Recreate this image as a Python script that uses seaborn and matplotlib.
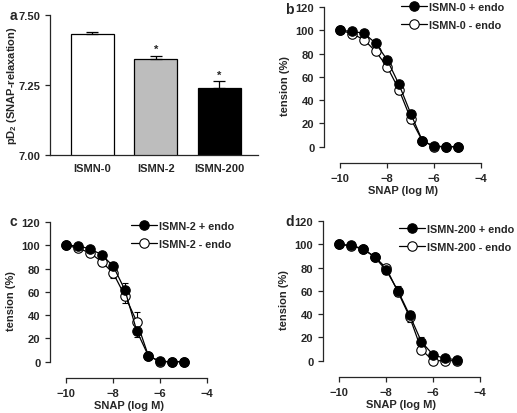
import numpy as np
import pandas as pd
import seaborn as sns
import matplotlib.pyplot as plt

# panel a: pD2 values
groups = ["ISMN-0", "ISMN-2", "ISMN-200"]
pd2_mean = [7.431, 7.342, 7.240]
pd2_err = [0.010, 0.013, 0.025]
pd2_sig = ["", "*", "*"]
bar_colors = ["white", "#bdbdbd", "black"]

# panels b-d: concentration-response curves
log_conc = [-10, -9.5, -9, -8.5, -8, -7.5, -7, -6.5, -6, -5.5, -5]

b_plus = [100, 99, 97.5, 89, 74.5, 53.5, 28.5, 5, 0.5, 0, 0]
b_plus_err = [1, 1, 1.5, 2, 2.5, 3, 3, 1.5, 0.5, 0, 0]
b_minus = [100, 97, 92, 82, 68.5, 49, 24, 5, 0, 0, 0]
b_minus_err = [1, 1.5, 2, 2.5, 3, 3.5, 3.5, 1.5, 0.5, 0, 0]

c_plus = [100, 99.5, 97, 92, 82, 61.5, 26.5, 5, 0.3, 0, 0]
c_plus_err = [1, 1, 1.5, 2, 3.5, 6, 5, 1.5, 0.5, 0, 0]
c_minus = [100, 97.5, 93.5, 86, 76, 56.5, 34.5, 5, 0, 0, 0]
c_minus_err = [1, 1.5, 2, 4, 4, 6, 8, 1.5, 0.5, 0, 0]

d_plus = [100, 99, 96.3, 89, 77.7, 60, 39, 16.3, 5, 2, 0.9]
d_plus_err = [1, 1, 1.5, 2, 3, 4, 4, 4, 2, 1, 0.5]
d_minus = [100, 98.5, 96, 89.5, 79.5, 59, 37.5, 9.5, 0, 0, 0]
d_minus_err = [1, 1, 1.5, 2, 3, 3, 4, 3, 1, 0.5, 0]

sns.set_style("ticks")
plt.rcParams["font.family"] = ["Liberation Sans", "DejaVu Sans"]
plt.rcParams["font.weight"] = "bold"
plt.rcParams["axes.labelweight"] = "bold"
plt.rcParams["mathtext.fontset"] = "custom"
plt.rcParams["mathtext.bf"] = "Liberation Sans:bold"
plt.rcParams["mathtext.rm"] = "Liberation Sans:bold"
plt.rcParams["axes.linewidth"] = 0.9
plt.rcParams["xtick.major.width"] = 0.9
plt.rcParams["ytick.major.width"] = 0.9
plt.rcParams["xtick.major.size"] = 3.5
plt.rcParams["ytick.major.size"] = 3.5

W, H = 517, 414
fig = plt.figure(figsize=(W / 100, H / 100), dpi=100)


def px_axes(left, top, right, bottom):
    return fig.add_axes([left / W, 1 - bottom / H, (right - left) / W, (bottom - top) / H])


# ---- panel a ----
ax = px_axes(50, 16, 258, 156)
df_a = pd.DataFrame({"group": groups, "pd2": pd2_mean})
sns.barplot(data=df_a, x="group", y="pd2", hue="group", palette=bar_colors,
            edgecolor="black", linewidth=0.9, width=0.68, legend=False, ax=ax)
xs = np.arange(len(groups))
ax.errorbar(xs, pd2_mean, yerr=[np.zeros(3), pd2_err], fmt="none",
            ecolor="black", elinewidth=0.9, capsize=4, capthick=0.9, zorder=1)
for x, m, e, s in zip(xs, pd2_mean, pd2_err, pd2_sig):
    if s:
        ax.annotate(s, (x, m + e), xytext=(0, 1), textcoords="offset points",
                    ha="center", va="bottom", fontsize=8, fontweight="bold")
ax.set_xlim(-0.67, 2.61)
ax.set_ylim(7.0, 7.5)
ax.set_yticks([7.0, 7.25, 7.5])
ax.set_yticklabels(["7.00", "7.25", "7.50"])
ax.tick_params(axis="x", length=0, pad=6)
ax.tick_params(labelsize=8)
ax.set_xlabel("")
ax.set_ylabel(r"pD$_\mathbf{2}$ (SNAP-relaxation)", fontsize=8)
ax.yaxis.set_label_coords(19 / W, 1 - 86 / H, transform=fig.transFigure)
sns.despine(ax=ax)
fig.text(10 / W, 1 - 16 / H, "a", fontsize=10, fontweight="bold", va="center")


# ---- panels b-d ----
def curve_panel(ax, plus, plus_err, minus, minus_err, name, leg_xy):
    ax.errorbar(log_conc, minus, yerr=minus_err, fmt="none", ecolor="black",
                elinewidth=0.8, capsize=2.5, capthick=0.8, zorder=1)
    ax.errorbar(log_conc, plus, yerr=plus_err, fmt="none", ecolor="black",
                elinewidth=0.8, capsize=2.5, capthick=0.8, zorder=1)
    sns.lineplot(x=log_conc, y=minus, color="black", linewidth=0.9, marker="o",
                 ms=6.8, mfc="white", mec="black", mew=0.8, zorder=2, ax=ax)
    h_minus = ax.lines[-1]
    sns.lineplot(x=log_conc, y=plus, color="black", linewidth=0.9, marker="o",
                 ms=6.8, mfc="black", mec="black", mew=0.8, zorder=3, ax=ax)
    h_plus = ax.lines[-1]
    ax.legend([h_plus, h_minus], [name + " + endo", name + " - endo"],
              loc="upper left", bbox_to_anchor=(leg_xy[0] / W, 1 - leg_xy[1] / H),
              bbox_transform=fig.transFigure, frameon=False, fontsize=7.8,
              handlelength=2.4, handletextpad=0.15, borderpad=0, borderaxespad=0,
              labelspacing=0.75)
    ax.set_xlim(-10.7, -4)
    ax.set_ylim(-14, 120)
    ax.set_xticks([-10, -8, -6, -4])
    ax.set_yticks(range(0, 121, 20))
    sns.despine(ax=ax)
    ax.spines["left"].set_bounds(0, 120)
    ax.spines["bottom"].set_bounds(-10, -4)
    ax.tick_params(labelsize=8)
    ax.set_xlabel("SNAP (log M)", fontsize=8, labelpad=2)
    ax.set_ylabel("tension (%)", fontsize=8)


ax_b = px_axes(324, 8, 481, 164)
curve_panel(ax_b, b_plus, b_plus_err, b_minus, b_minus_err, "ISMN-0", (401, 3))
fig.text(285 / W, 1 - 10 / H, "b", fontsize=10, fontweight="bold", va="center")

ax_c = px_axes(50, 223, 207, 379)
curve_panel(ax_c, c_plus, c_plus_err, c_minus, c_minus_err, "ISMN-2", (131, 222))
fig.text(10 / W, 1 - 222 / H, "c", fontsize=10, fontweight="bold", va="center")

ax_d = px_axes(323, 222, 480, 378)
curve_panel(ax_d, d_plus, d_plus_err, d_minus, d_minus_err, "ISMN-200", (399, 225))
fig.text(285 / W, 1 - 222 / H, "d", fontsize=10, fontweight="bold", va="center")

fig.savefig("out.png", dpi=100)
